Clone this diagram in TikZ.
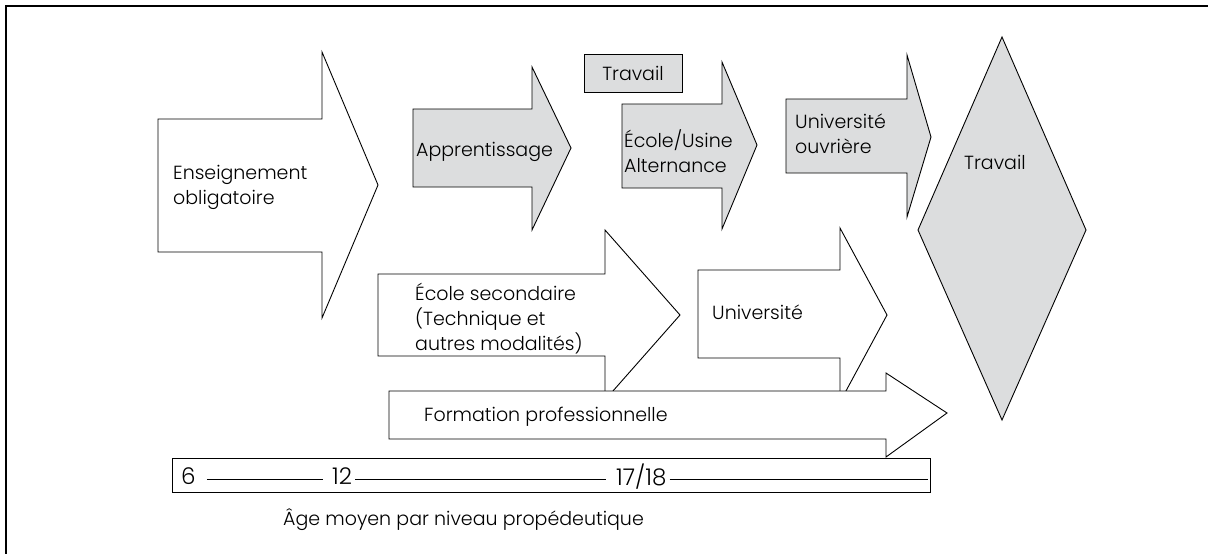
\documentclass[tikz,border=0pt]{standalone}
\usepackage{fontspec}
\setmainfont{Poppins}[UprightFont=* Light]
\definecolor{boxgray}{RGB}{220,221,222}
\newcommand{\myarrow}[9]{\draw[#1] (#2,#3) -- (#5,#3) -- (#5,#6) -- (#8,#9) -- (#5,#7) -- (#5,#4) -- (#2,#4) -- cycle;}
\begin{document}
\begin{tikzpicture}[x=1pt,y=-1pt,
  shp/.style={draw=black,line width=0.9pt,line join=miter},
  wshape/.style={shp,fill=white},
  gshape/.style={shp,fill=boxgray},
  lbl/.style={font=\fontsize{19}{25}\selectfont,align=left,anchor=west,inner sep=0pt},
  num/.style={font=\fontsize{23}{25}\selectfont,anchor=west,inner sep=0pt},
  tick/.style={line width=0.6pt}]
\useasboundingbox (0,0) rectangle (1208,554);
\draw[line width=2pt] (6,554) -- (6,6) -- (1208,6);
% diamond
\draw[gshape] (1002,37) -- (1086,230) -- (1002,420) -- (918,230) -- cycle;
\node[lbl] (trav2) at (964,162) {Travail};
% Enseignement obligatoire
\myarrow{wshape}{158}{119}{252}{322}{52}{318}{378}{185}
\node[lbl] (ens) at (173,187) {Enseignement\\obligatoire};
% Apprentissage
\myarrow{gshape}{413}{109}{187}{532}{67}{230}{571}{148}
\node[lbl] (app) at (416,152) {Apprentissage};
% Travail box
\node[draw,line width=0.9pt,fill=boxgray,minimum width=98pt,minimum height=38pt,inner sep=0pt,font=\fontsize{19}{25}\selectfont] (trav1) at (633,73) {Travail};
% Ecole/Usine
\myarrow{gshape}{622}{104}{188}{722}{62}{229}{757}{145}
\node[lbl] (eu) at (624,151) {École/Usine\\Alternance};
% Universite ouvriere
\myarrow{gshape}{786}{99}{173}{907}{55}{217}{931}{137}
\node[lbl] (uo) at (795,134) {Université\\ouvrière};
% Ecole secondaire
\myarrow{wshape}{378}{274}{356}{605}{230}{400}{680}{315}
\node[lbl] (es) at (415,319) {École secondaire\\(Technique et\\autres modalités)};
% Universite
\myarrow{wshape}{698}{270}{358}{840}{228}{402}{887}{315}
\node[lbl] (univ) at (712,312) {Université};
% Formation professionnelle
\myarrow{wshape}{389}{391}{439}{886}{373}{457}{947}{413}
\node[lbl] (fp) at (424,417) {Formation professionnelle};
% age bar
\draw[line width=0.9pt,fill=white] (172,458) rectangle (930,492);
\node[num] (a6) at (181,476.5) {6};
\node[num] (a12) at (332,476.5) {12};
\node[num] (a17) at (616,476.5) {17/18};
\coordinate (aend) at (928,479);
\draw[tick] ([shift={(11,2.5)}]a6.east) -- ([shift={(-9,2.5)}]a12.west);
\draw[tick] ([shift={(3,2.5)}]a12.east) -- ([shift={(-10,2.5)}]a17.west);
\draw[tick] ([shift={(3,2.5)}]a17.east) -- (aend);
\node[lbl] (cap) at (283,520) {Âge moyen par niveau propédeutique};
\end{tikzpicture}
\end{document}
